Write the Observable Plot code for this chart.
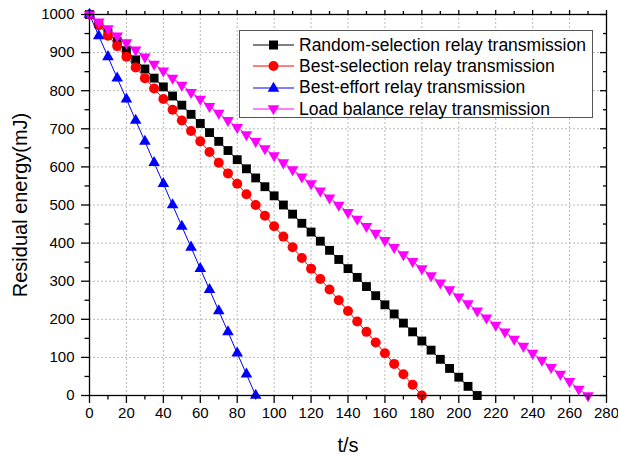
<!DOCTYPE html>
<html><head><meta charset="utf-8">
<script src="https://cdn.jsdelivr.net/npm/d3@7"></script>
<script src="https://cdn.jsdelivr.net/npm/@observablehq/plot@0.6"></script>
<style>
html,body{margin:0;padding:0;background:#fff;}
#wrap{position:relative;width:618px;height:457px;font-family:"Liberation Sans",Arial,sans-serif;}
#legend{position:absolute;left:239px;top:30px;width:354px;height:88px;border:1px solid #555;background:#fff;box-sizing:border-box;}
.row{position:absolute;left:0;height:20px;display:flex;align-items:center;font-size:17.5px;color:#000;white-space:nowrap;}
.row svg{margin-left:13px;margin-right:5px;}
</style>
</head><body>
<div id="wrap"><div id="chart"></div><div id="legend"></div></div>
<script>
// time axis (s), sampled every 5 s
const tRandom = [0,5,10,15,20,25,30,35,40,45,50,55,60,65,70,75,80,85,90,95,100,105,110,115,120,125,130,135,140,145,150,155,160,165,170,175,180,185,190,195,200,205,210];
const eRandom = [1000,976,952,929,905,881,857,833,810,786,762,738,714,690,667,643,619,595,571,548,524,500,476,452,429,405,381,357,333,310,286,262,238,214,190,167,143,119,95,71,48,24,0];
const tBest = [0,5,10,15,20,25,30,35,40,45,50,55,60,65,70,75,80,85,90,95,100,105,110,115,120,125,130,135,140,145,150,155,160,165,170,175,180];
const eBest = [1000,972,944,917,889,861,833,806,778,750,722,694,667,639,611,583,556,528,500,472,444,417,389,361,333,306,278,250,222,194,167,139,111,83,56,28,0];
const tEffort = [0,5,10,15,20,25,30,35,40,45,50,55,60,65,70,75,80,85,90];
const eEffort = [1000,944,889,833,778,722,667,611,556,500,444,389,333,278,222,167,111,56,0];
const tLoad = [0,5,10,15,20,25,30,35,40,45,50,55,60,65,70,75,80,85,90,95,100,105,110,115,120,125,130,135,140,145,150,155,160,165,170,175,180,185,190,195,200,205,210,215,220,225,230,235,240,245,250,255,260,265,270];
const eLoad = [1000,981,963,944,926,907,889,870,852,833,815,796,778,759,741,722,704,685,667,648,630,611,593,574,556,537,519,500,481,463,444,426,407,389,370,352,333,315,296,278,259,241,222,204,185,167,148,130,111,93,74,56,37,17,0];

const seriesNames = ["Random-selection relay transmission","Best-selection relay transmission","Best-effort relay transmission","Load balance relay transmission"];
const seriesColors = ["#000000","#ff0000","#0000ff","#ff00ff"];
const xMajor = [0,20,40,60,80,100,120,140,160,180,200,220,240,260,280];
const xMinor = [10,30,50,70,90,110,130,150,170,190,210,230,250,270];
const yMajor = [0,100,200,300,400,500,600,700,800,900,1000];
const yMinor = [50,150,250,350,450,550,650,750,850,950];
const xTitle = "t/s";
const yTitle = "Residual energy(mJ)";

const mk = (ts, es) => ts.map((t,i)=>({t, e: es[i]}));
const dRandom = mk(tRandom, eRandom), dBest = mk(tBest, eBest), dEffort = mk(tEffort, eEffort), dLoad = mk(tLoad, eLoad);
const blank = () => "";

const chart = Plot.plot({
  width: 618, height: 457,
  marginLeft: 89, marginRight: 12, marginTop: 14, marginBottom: 62,
  x: {domain: [0, 280]},
  y: {domain: [0, 1000]},
  style: {fontFamily: "'Liberation Sans', Arial, sans-serif", fontSize: "15px", background: "#fff", color: "#000"},
  marks: [
    Plot.gridX(xMajor, {stroke: "#b8b8b8", strokeOpacity: 1, strokeDasharray: "2,2"}),
    Plot.gridY(yMajor, {stroke: "#b8b8b8", strokeOpacity: 1, strokeDasharray: "2,2"}),
    Plot.line(dRandom, {x: "t", y: "e", stroke: seriesColors[0], strokeWidth: 1}),
    Plot.dot(dRandom, {x: "t", y: "e", symbol: "square", r: 5, fill: seriesColors[0], stroke: null}),
    Plot.line(dBest, {x: "t", y: "e", stroke: seriesColors[1], strokeWidth: 1}),
    Plot.dot(dBest, {x: "t", y: "e", symbol: "circle", r: 5, fill: seriesColors[1], stroke: null}),
    Plot.line(dEffort, {x: "t", y: "e", stroke: seriesColors[2], strokeWidth: 1}),
    Plot.dot(dEffort, {x: "t", y: "e", symbol: "triangle", r: 4.3, fill: seriesColors[2], stroke: null}),
    Plot.line(dLoad, {x: "t", y: "e", stroke: seriesColors[3], strokeWidth: 1}),
    Plot.dot(dLoad, {x: "t", y: "e", symbol: "triangle", rotate: 180, r: 4.3, fill: seriesColors[3], stroke: null}),
    Plot.frame({stroke: "#000", strokeWidth: 1.3}),
    Plot.axisX(xMajor, {anchor: "bottom", tickSize: 8, tickPadding: 4, label: null, fontSize: 15, strokeWidth: 1.3}),
    Plot.axisX(xMinor, {anchor: "bottom", tickSize: 4.5, tickFormat: blank, label: null, strokeWidth: 1.3}),
    Plot.axisX(xMajor, {anchor: "top", tickSize: 5, tickFormat: blank, label: null, strokeWidth: 1.3}),
    Plot.axisX(xMinor, {anchor: "top", tickSize: 4, tickFormat: blank, label: null, strokeWidth: 1.3}),
    Plot.axisY(yMajor, {anchor: "left", tickSize: 8, tickPadding: 7, tickFormat: "d", label: null, fontSize: 15, strokeWidth: 1.3}),
    Plot.axisY(yMinor, {anchor: "left", tickSize: 4.5, tickFormat: blank, label: null, strokeWidth: 1.3}),
    Plot.axisY(yMajor, {anchor: "right", tickSize: -7, tickFormat: blank, label: null, strokeWidth: 1.3}),
    Plot.axisY(yMinor, {anchor: "right", tickSize: -4, tickFormat: blank, label: null, strokeWidth: 1.3}),
    Plot.text([xTitle], {text: d => d, frameAnchor: "bottom", dy: 50, lineAnchor: "middle", textAnchor: "middle", fontSize: 20}),
    Plot.text([yTitle], {text: d => d, frameAnchor: "left", rotate: -90, dx: -69, textAnchor: "middle", lineAnchor: "middle", fontSize: 20})
  ]
});
document.getElementById("chart").appendChild(chart);

// legend
const legend = document.getElementById("legend");
const symbols = ["square","circle","triangle","triangleDown"];
const rowTops = [4, 25, 46.5, 68];
seriesNames.forEach((name, i) => {
  const row = document.createElement("div");
  row.className = "row";
  row.style.top = rowTops[i] + "px";
  const c = seriesColors[i];
  let sym = "";
  if (symbols[i] === "square") sym = `<rect x="16" y="5.5" width="9" height="9" fill="${c}"/>`;
  else if (symbols[i] === "circle") sym = `<circle cx="20.5" cy="10" r="5" fill="${c}"/>`;
  else if (symbols[i] === "triangle") sym = `<path d="${d3.symbol(d3.symbolTriangle, Math.PI*4.3*4.3)()}" transform="translate(20.5,10.5)" fill="${c}"/>`;
  else sym = `<path d="${d3.symbol(d3.symbolTriangle, Math.PI*4.3*4.3)()}" transform="translate(20.5,9.5) rotate(180)" fill="${c}"/>`;
  row.innerHTML = `<svg width="41" height="20"><line x1="0" x2="41" y1="10" y2="10" stroke="${c}" stroke-width="1"/>${sym}</svg><span>${name}</span>`;
  legend.appendChild(row);
});
</script>
</body></html>
